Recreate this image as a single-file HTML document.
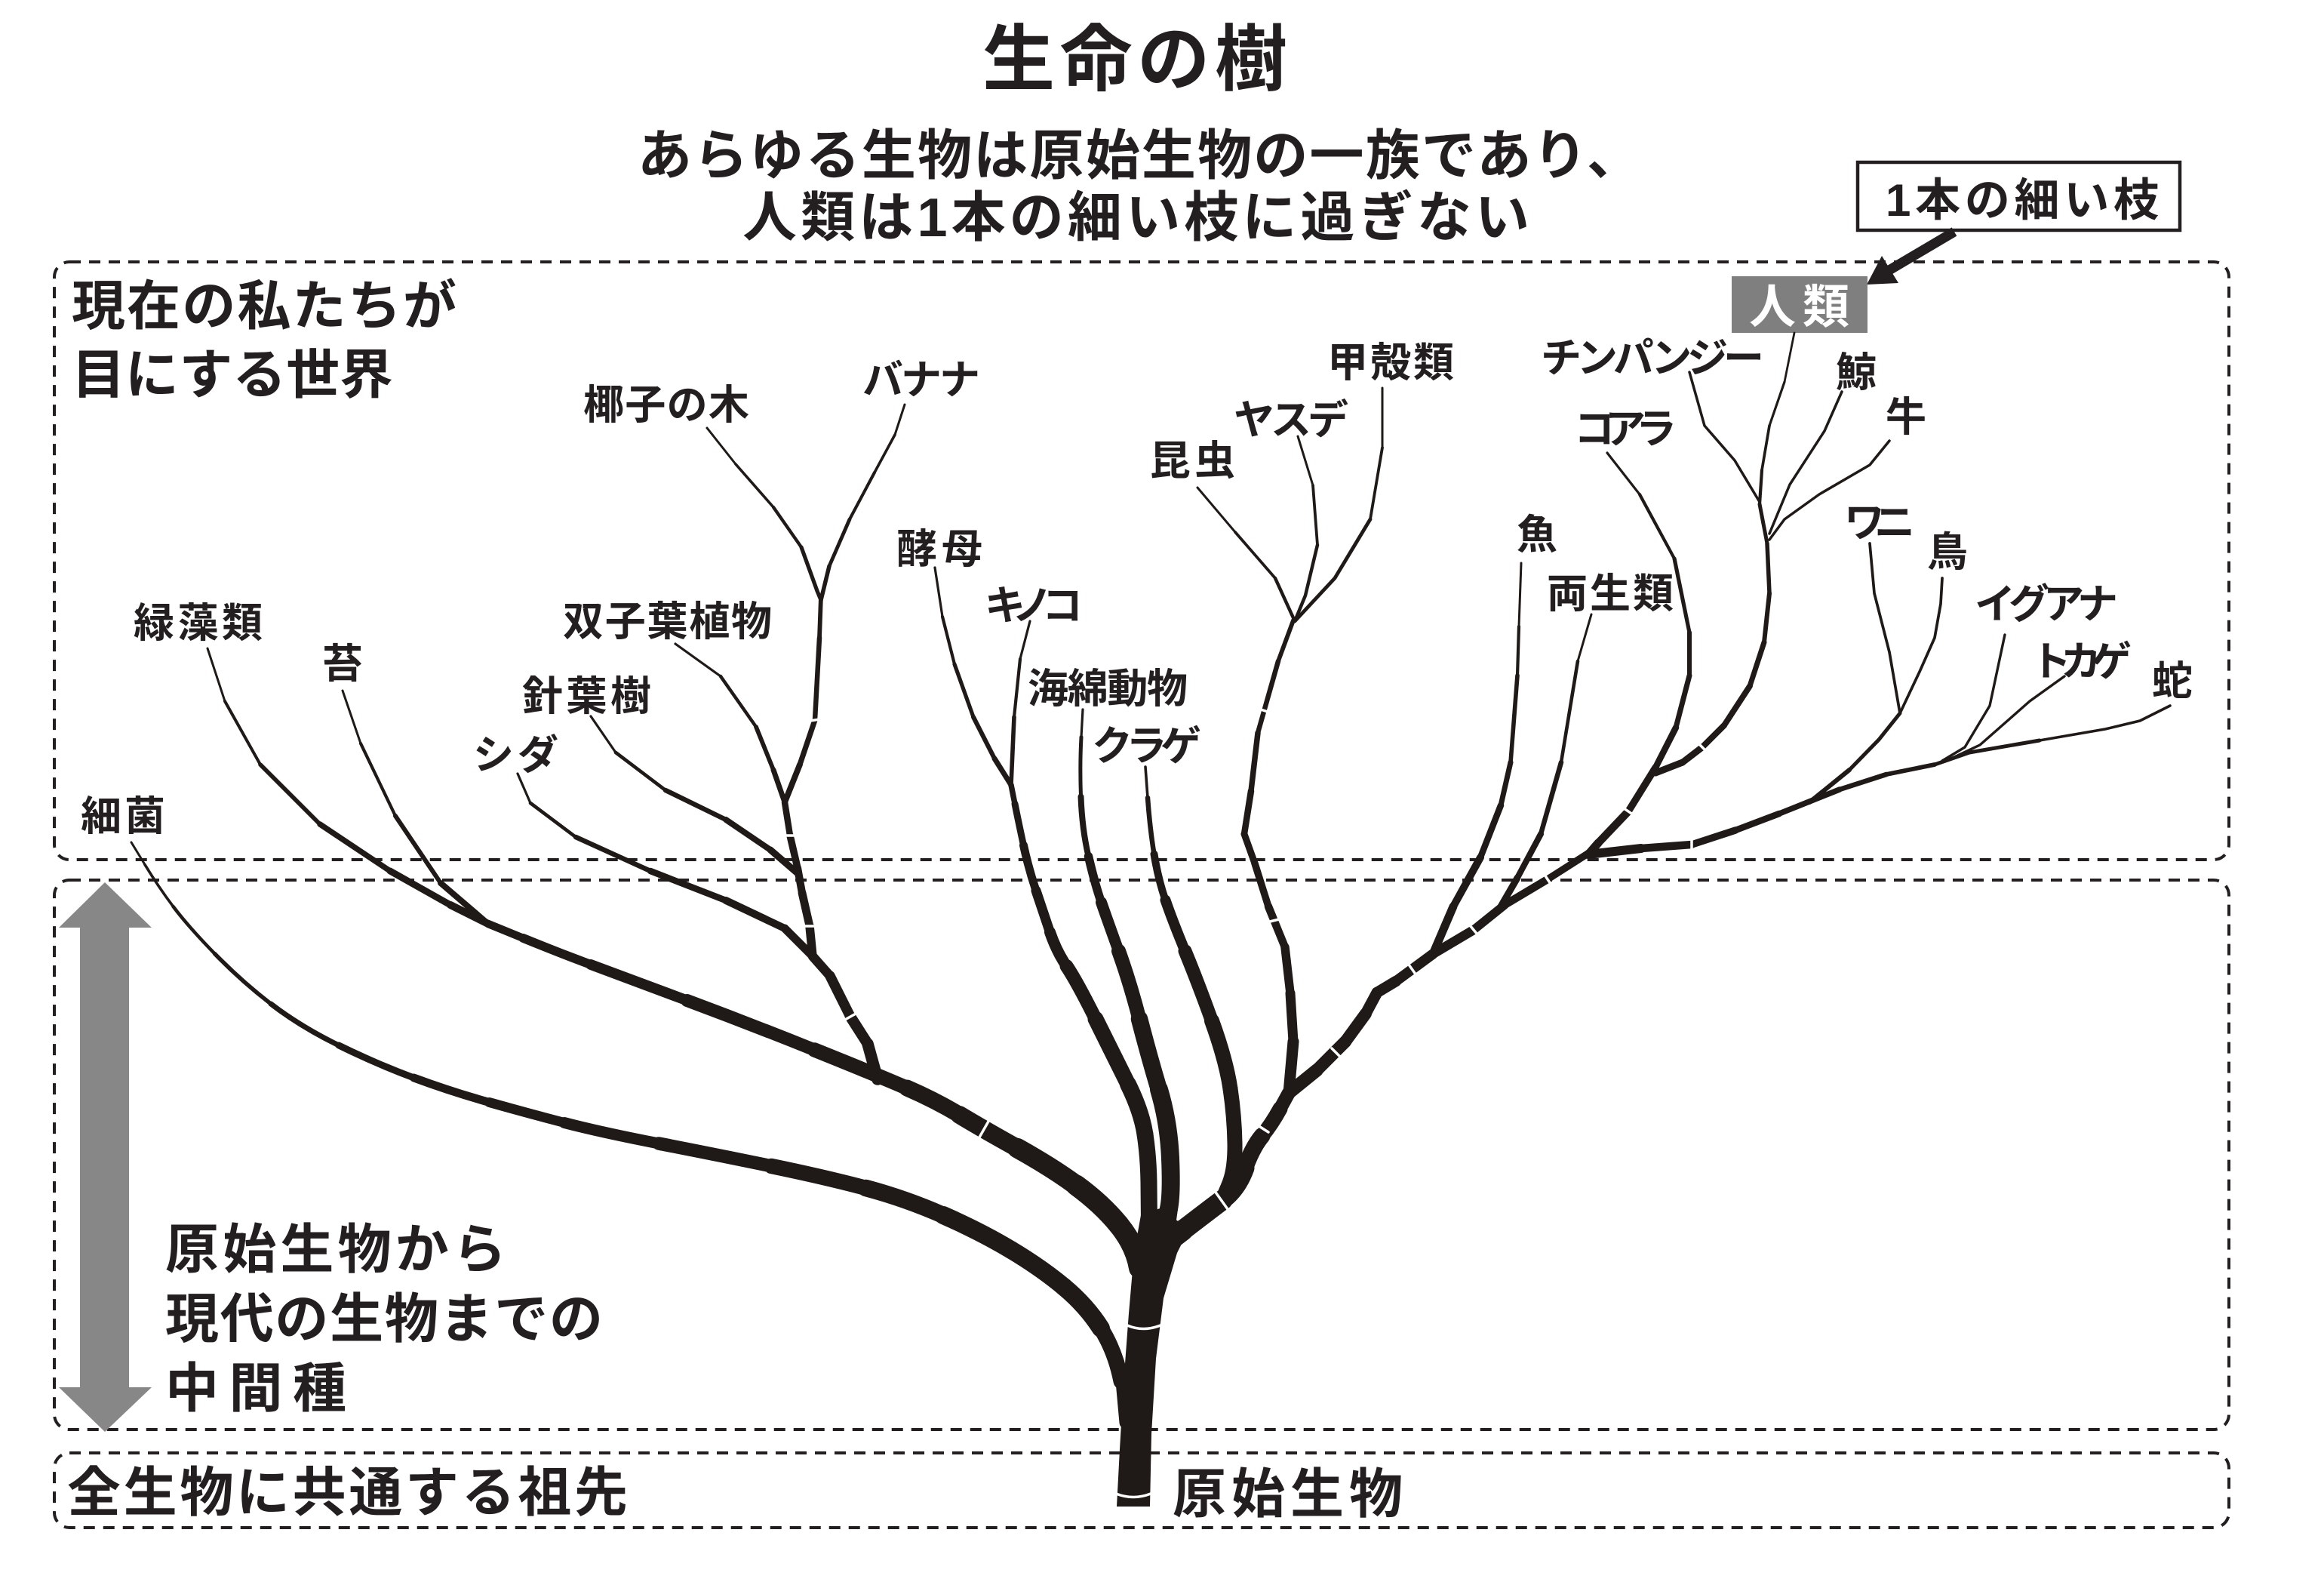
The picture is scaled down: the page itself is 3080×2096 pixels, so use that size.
<!DOCTYPE html>
<html lang="ja">
<head>
<meta charset="utf-8">
<style>
html,body{margin:0;padding:0;background:#fff;}
svg{display:block;}
.t{font-family:"Liberation Sans","Noto Sans CJK JP",sans-serif;fill:#231f20;font-weight:700;}
.lb{font-size:54px;}
.hd{font-size:71px;}
</style>
</head>
<body>
<svg width="3080" height="2096" viewBox="0 0 3080 2096" xmlns="http://www.w3.org/2000/svg">
<rect width="3080" height="2096" fill="#fff"/>

<!-- dashed boxes -->
<g fill="none" stroke="#231f20" stroke-width="4" stroke-dasharray="15 11">
  <rect x="72" y="347" width="2882" height="792" rx="20" ry="20"/>
  <rect x="72" y="1166" width="2882" height="728" rx="20" ry="20"/>
  <rect x="72" y="1925" width="2882" height="99" rx="20" ry="20"/>
</g>

<!-- gray double arrow -->
<polygon points="139,1169 201,1229 171,1229 171,1838 201,1838 139,1897 78,1838 106,1838 106,1229 78,1229" fill="#878787"/>

<!-- title & subtitle -->
<text class="t" x="1302" y="112" font-size="96" textLength="404" lengthAdjust="spacing">生命の樹</text>
<text class="t" x="845" y="231" font-size="72" textLength="1330" lengthAdjust="spacing">あらゆる生物は原始生物の一族であり、</text>
<text class="t" x="984" y="313" font-size="72" textLength="1043" lengthAdjust="spacing">人類は1本の細い枝に過ぎない</text>

<!-- callout box -->
<rect x="2462" y="215" width="427" height="90" fill="#fff" stroke="#231f20" stroke-width="4.5"/>
<text class="t" x="2499" y="286" font-size="60" textLength="362" lengthAdjust="spacing">1本の細い枝</text>
<line x1="2590" y1="307" x2="2502" y2="359" stroke="#231f20" stroke-width="13"/>
<polygon points="2474,377 2494,339 2516,375" fill="#231f20"/>

<!-- human box -->
<rect x="2295" y="366" width="180" height="75" fill="#7f7f7f"/>
<text class="t" x="2318" y="428" font-size="62" textLength="133" lengthAdjust="spacing" style="fill:#fff">人類</text>

<!-- section headings -->
<text class="t hd" x="95" y="430" textLength="510" lengthAdjust="spacing">現在の私たちが</text>
<text class="t hd" x="95" y="521" textLength="426" lengthAdjust="spacing">目にする世界</text>
<text class="t hd" x="219" y="1680" textLength="452" lengthAdjust="spacing">原始生物から</text>
<text class="t hd" x="219" y="1772" textLength="580" lengthAdjust="spacing">現代の生物までの</text>
<text class="t hd" x="219" y="1864" textLength="240" lengthAdjust="spacing">中間種</text>
<text class="t hd" x="89" y="2002" textLength="743" lengthAdjust="spacing">全生物に共通する祖先</text>
<text class="t hd" x="1554" y="2004" textLength="305" lengthAdjust="spacing">原始生物</text>

<!-- labels -->
<g class="t lb">
  <text x="773" y="555" textLength="220" lengthAdjust="spacing">椰子の木</text>
  <text x="1143" y="522" textLength="156" lengthAdjust="spacing">バナナ</text>
  <text x="1759" y="499" textLength="168" lengthAdjust="spacing">甲殻類</text>
  <text x="1635" y="575" textLength="152" lengthAdjust="spacing">ヤスデ</text>
  <text x="1524" y="629" textLength="113" lengthAdjust="spacing">昆虫</text>
  <text x="1188" y="746" textLength="114" lengthAdjust="spacing">酵母</text>
  <text x="1305" y="821" textLength="130" lengthAdjust="spacing">キノコ</text>
  <text x="1362" y="931" textLength="212" lengthAdjust="spacing">海綿動物</text>
  <text x="1447" y="1007" textLength="145" lengthAdjust="spacing">クラゲ</text>
  <text x="2010" y="727" textLength="58" lengthAdjust="spacing">魚</text>
  <text x="177" y="844" textLength="171" lengthAdjust="spacing">緑藻類</text>
  <text x="427" y="898" textLength="53" lengthAdjust="spacing">苔</text>
  <text x="746" y="842" textLength="277" lengthAdjust="spacing">双子葉植物</text>
  <text x="692" y="941" textLength="171" lengthAdjust="spacing">針葉樹</text>
  <text x="627" y="1019" textLength="113" lengthAdjust="spacing">シダ</text>
  <text x="107" y="1100" textLength="112" lengthAdjust="spacing">細菌</text>
  <text x="2042" y="493" textLength="296" lengthAdjust="spacing">チンパンジー</text>
  <text x="2433" y="512" textLength="58" lengthAdjust="spacing">鯨</text>
  <text x="2499" y="571" textLength="55" lengthAdjust="spacing">牛</text>
  <text x="2086" y="587" textLength="136" lengthAdjust="spacing">コアラ</text>
  <text x="2444" y="711" textLength="94" lengthAdjust="spacing">ワニ</text>
  <text x="2554" y="750" textLength="55" lengthAdjust="spacing">鳥</text>
  <text x="2050" y="805" textLength="168" lengthAdjust="spacing">両生類</text>
  <text x="2617" y="819" textLength="190" lengthAdjust="spacing">イグアナ</text>
  <text x="2691" y="895" textLength="134" lengthAdjust="spacing">トカゲ</text>
  <text x="2852" y="921" textLength="60" lengthAdjust="spacing">蛇</text>
</g>

<!-- TREE -->
<g fill="none" stroke="#1f1a17" stroke-linecap="round" stroke-linejoin="round">
  <!-- bacteria -->
  <path d="M174 1116 L192 1145.5" stroke-width="3"/>
  <path d="M192 1145.5 Q210 1175 229.5 1201" stroke-width="3.6"/>
  <path d="M229.5 1201 Q249 1227 284.5 1263.5" stroke-width="4.5"/>
  <path d="M284.5 1263.5 Q320 1300 359 1330" stroke-width="5.5"/>
  <path d="M359 1330 Q398 1360 449 1385" stroke-width="7"/>
  <path d="M449 1385 Q500 1410 548.5 1428" stroke-width="9"/>
  <path d="M548.5 1428 Q597 1446 648.5 1460.5" stroke-width="11"/>
  <path d="M648.5 1460.5 Q700 1475 748 1487.5" stroke-width="13"/>
  <path d="M748 1487.5 Q796 1500 873 1515" stroke-width="15"/>
  <path d="M873 1515 Q950 1530 1022.5 1545" stroke-width="17.5"/>
  <path d="M1022.5 1545 Q1095 1560 1147.5 1574" stroke-width="20.5"/>
  <path d="M1147.5 1574 Q1200 1588 1250 1610" stroke-width="22.5"/>
  <path d="M1250 1610 Q1300 1632 1340 1656" stroke-width="24"/>
  <path d="M1340 1656 Q1380 1680 1410 1705" stroke-width="24"/>
  <path d="M1410 1705 Q1440 1730 1459 1760" stroke-width="24"/>
  <path d="M1459 1760 Q1478 1790 1486 1830" stroke-width="21"/>
  <path d="M1486 1830 L1491 1885" stroke-width="15"/>

  <!-- plant main -->
  <path d="M647 1224 L693.5 1243" stroke-width="10.5"/>
  <path d="M693.5 1243 Q740 1262 783 1278" stroke-width="12"/>
  <path d="M783 1278 Q826 1294 910.5 1325.5" stroke-width="14"/>
  <path d="M910.5 1325.5 Q995 1357 1079.5 1391" stroke-width="17"/>
  <path d="M1079.5 1391 Q1164 1425 1202 1441.5" stroke-width="19.5"/>
  <path d="M1202 1441.5 Q1240 1458 1271.5 1477" stroke-width="22"/>
  <path d="M1271.5 1477 Q1303 1496 1348 1521" stroke-width="24"/>
  <path d="M1348 1521 Q1393 1546 1426.5 1570.5" stroke-width="26.5"/>
  <path d="M1426.5 1570.5 Q1460 1595 1482.5 1622.5" stroke-width="28"/>
  <path d="M1482.5 1622.5 Q1505 1650 1510 1680" stroke-width="28"/>

  <!-- green algae & moss -->
  <path d="M275 859 L298 929" stroke-width="3"/>
  <path d="M298 929 L345 1013" stroke-width="4"/>
  <path d="M345 1013 L424 1092" stroke-width="5.6"/>
  <path d="M424 1092 L517 1154" stroke-width="7.5"/>
  <path d="M517 1154 L597 1199" stroke-width="9"/>
  <path d="M597 1199 L647 1224" stroke-width="10"/>
  <path d="M454 915 L478 985" stroke-width="3"/>
  <path d="M478 985 L524 1081" stroke-width="4.2"/>
  <path d="M524 1081 L584 1170" stroke-width="6"/>
  <path d="M584 1170 L647 1224" stroke-width="8"/>

  <!-- plant stem -->
  <path d="M1163 1430 L1150 1383" stroke-width="15.5"/>
  <path d="M1150 1383 L1127 1347" stroke-width="14.5"/>
  <path d="M1127 1347 L1100 1293" stroke-width="13.5"/>
  <path d="M1100 1293 L1077 1267" stroke-width="12.5"/>
  <path d="M1077 1267 L1073 1227" stroke-width="11.5"/>
  <path d="M1073 1227 L1063 1183" stroke-width="10.8"/>
  <path d="M1063 1183 L1057 1150" stroke-width="10.2"/>
  <path d="M1057 1150 L1047 1107" stroke-width="9.5"/>
  <path d="M1047 1107 L1040 1063" stroke-width="8.5"/>
  <path d="M1040 1063 L1060 1013" stroke-width="7.8"/>
  <path d="M1060 1013 L1080 954" stroke-width="7.2"/>
  <path d="M1080 954 L1086 845" stroke-width="6.5"/>
  <path d="M1086 845 L1088 790" stroke-width="5.8"/>
  <!-- coconut / banana -->
  <path d="M937 567 L975 615" stroke-width="3"/>
  <path d="M975 615 L1025 672" stroke-width="3.6"/>
  <path d="M1025 672 L1062 725" stroke-width="4.3"/>
  <path d="M1062 725 L1083 783 L1088 795" stroke-width="5.2"/>
  <path d="M1199 536 L1186 576" stroke-width="3"/>
  <path d="M1186 576 L1159 626" stroke-width="3.6"/>
  <path d="M1159 626 L1126 688" stroke-width="4.1"/>
  <path d="M1126 688 L1099 750" stroke-width="4.8"/>
  <path d="M1099 750 L1088 795" stroke-width="5.5"/>
  <!-- dicot, conifer, fern -->
  <path d="M895 853 L955 896" stroke-width="3.2"/>
  <path d="M955 896 L1002 963" stroke-width="4.5"/>
  <path d="M1002 963 L1025 1020" stroke-width="5.8"/>
  <path d="M1025 1020 L1040 1063" stroke-width="7"/>
  <path d="M783 949 L816 997" stroke-width="3.2"/>
  <path d="M816 997 L882 1047" stroke-width="4.6"/>
  <path d="M882 1047 L962 1086" stroke-width="6.5"/>
  <path d="M962 1086 L1021 1126" stroke-width="8"/>
  <path d="M1021 1126 L1057 1157" stroke-width="9"/>
  <path d="M686 1025 L703 1064" stroke-width="3.2"/>
  <path d="M703 1064 L763 1109" stroke-width="4.6"/>
  <path d="M763 1109 L862 1154" stroke-width="6.5"/>
  <path d="M862 1154 L962 1193" stroke-width="8.5"/>
  <path d="M962 1193 L1040 1230" stroke-width="10"/>
  <path d="M1040 1230 L1077 1267" stroke-width="11"/>

  <!-- yeast / mushroom -->
  <path d="M1239 752 L1249 817" stroke-width="3.2"/>
  <path d="M1249 817 L1265 880" stroke-width="4.2"/>
  <path d="M1265 880 L1290 950" stroke-width="5.2"/>
  <path d="M1290 950 L1318 1005" stroke-width="6"/>
  <path d="M1318 1005 L1340 1040" stroke-width="7"/>
  <path d="M1365 823 L1352 873" stroke-width="3.2"/>
  <path d="M1352 873 L1344 950" stroke-width="4.2"/>
  <path d="M1344 950 L1340 1040" stroke-width="5.6"/>
  <path d="M1340 1040 L1345 1065" stroke-width="7.5"/>
  <path d="M1345 1065 Q1350 1090 1356.5 1120" stroke-width="9"/>
  <path d="M1356.5 1120 Q1363 1150 1373 1180" stroke-width="11"/>
  <path d="M1373 1180 Q1383 1210 1391.5 1235" stroke-width="13"/>
  <path d="M1391.5 1235 Q1400 1260 1413.5 1280" stroke-width="15"/>
  <path d="M1413.5 1280 Q1427 1300 1452 1350" stroke-width="18"/>
  <path d="M1452 1350 Q1477 1400 1495 1436.5" stroke-width="21"/>
  <path d="M1495 1436.5 Q1513 1473 1517.5 1503" stroke-width="22"/>
  <path d="M1517.5 1503 Q1522 1533 1522.5 1566.5" stroke-width="22"/>
  <path d="M1522.5 1566.5 L1523 1620" stroke-width="22"/>

  <!-- sponge -->
  <path d="M1435 940 L1433 976.5" stroke-width="3.2"/>
  <path d="M1433 976.5 Q1431 1013 1432.5 1055.5" stroke-width="5"/>
  <path d="M1432.5 1055.5 Q1434 1098 1442.5 1134.5" stroke-width="8"/>
  <path d="M1442.5 1134.5 Q1451 1171 1459.5 1195.5" stroke-width="11.5"/>
  <path d="M1459.5 1195.5 Q1468 1220 1482.5 1260" stroke-width="15"/>
  <path d="M1482.5 1260 Q1497 1300 1510 1350" stroke-width="19"/>
  <path d="M1510 1350 Q1523 1400 1536 1443.5" stroke-width="22.5"/>
  <path d="M1536 1443.5 Q1549 1487 1551 1535" stroke-width="24"/>
  <path d="M1551 1535 Q1553 1583 1549 1601.5" stroke-width="24"/>
  <path d="M1549 1601.5 L1545 1630" stroke-width="24"/>

  <!-- jellyfish -->
  <path d="M1518 1016 L1521 1057" stroke-width="3.6"/>
  <path d="M1521 1057 Q1524 1098 1529.5 1131.5" stroke-width="6.5"/>
  <path d="M1529.5 1131.5 Q1535 1165 1544.5 1192.5" stroke-width="10"/>
  <path d="M1544.5 1192.5 Q1554 1220 1570.5 1260" stroke-width="14"/>
  <path d="M1570.5 1260 Q1587 1300 1606 1352.5" stroke-width="18"/>
  <path d="M1606 1352.5 Q1625 1405 1630.5 1442.5" stroke-width="20"/>
  <path d="M1630.5 1442.5 Q1636 1480 1636.5 1515" stroke-width="20"/>
  <path d="M1636.5 1515 Q1637 1550 1628.5 1570" stroke-width="20"/>
  <path d="M1628.5 1570 L1620 1590" stroke-width="20"/>

  <!-- right main -->
  <path d="M1535 1655 L1567.5 1630" stroke-width="28"/>
  <path d="M1567.5 1630 Q1600 1605 1620 1590" stroke-width="27"/>
  <path d="M1620 1590 Q1640 1575 1650 1547.5" stroke-width="25"/>
  <path d="M1650 1547.5 Q1660 1520 1672.5 1505" stroke-width="22"/>
  <path d="M1672.5 1505 Q1685 1490 1696.5 1469" stroke-width="20"/>
  <path d="M1696.5 1469 L1708 1448" stroke-width="18"/>

  <!-- arthropods -->
  <path d="M1708 1448 L1714 1380" stroke-width="15"/>
  <path d="M1714 1380 L1710 1316" stroke-width="13"/>
  <path d="M1710 1316 L1703 1255" stroke-width="11.5"/>
  <path d="M1703 1255 L1681 1201" stroke-width="10.5"/>
  <path d="M1681 1201 L1663 1144" stroke-width="9.5"/>
  <path d="M1663 1144 L1649 1105" stroke-width="9"/>
  <path d="M1649 1105 L1658 1048" stroke-width="8.5"/>
  <path d="M1658 1048 L1667 971" stroke-width="7.5"/>
  <path d="M1667 971 L1694 876" stroke-width="6.5"/>
  <path d="M1694 876 L1714 822" stroke-width="5.8"/>
  <path d="M1587 646 L1637 705" stroke-width="3"/>
  <path d="M1637 705 L1690 766" stroke-width="3.8"/>
  <path d="M1690 766 L1716 823" stroke-width="4.5"/>
  <path d="M1720 578 L1740 643" stroke-width="3"/>
  <path d="M1740 643 L1746 722" stroke-width="3.8"/>
  <path d="M1746 722 L1730 789 L1716 823" stroke-width="4.5"/>
  <path d="M1832 514 L1832 593" stroke-width="3"/>
  <path d="M1832 593 L1816 688" stroke-width="3.8"/>
  <path d="M1816 688 L1769 766 L1716 823" stroke-width="4.8"/>

  <!-- vertebrates -->
  <path d="M1708 1448 L1745 1418" stroke-width="17.5"/>
  <path d="M1745 1418 L1783 1380" stroke-width="16.5"/>
  <path d="M1783 1380 L1810 1343" stroke-width="16"/>
  <path d="M1810 1343 L1825 1315" stroke-width="15"/>
  <path d="M1825 1315 L1850 1300" stroke-width="14.5"/>
  <path d="M1850 1300 L1899 1264" stroke-width="13.5"/>
  <path d="M1899 1264 L1953 1232" stroke-width="12.5"/>
  <path d="M1953 1232 L1994 1199" stroke-width="11.5"/>
  <path d="M1994 1199 L2051 1165" stroke-width="10.5"/>
  <path d="M2051 1165 L2109 1128" stroke-width="9.5"/>
  <!-- fish -->
  <path d="M2016 746 L2013 830" stroke-width="3"/>
  <path d="M2013 830 L2011 895" stroke-width="4.2"/>
  <path d="M2011 895 L2002 1010" stroke-width="5.6"/>
  <path d="M2002 1010 L1989 1067" stroke-width="7"/>
  <path d="M1989 1067 L1962 1136" stroke-width="8.5"/>
  <path d="M1962 1136 L1926 1201" stroke-width="10"/>
  <path d="M1926 1201 L1899 1264" stroke-width="11"/>
  <!-- amphibians -->
  <path d="M2109 814 L2091 876" stroke-width="3"/>
  <path d="M2091 876 L2069 1010" stroke-width="4.6"/>
  <path d="M2069 1010 L2042 1105" stroke-width="6.5"/>
  <path d="M2042 1105 L2011 1163" stroke-width="8"/>
  <path d="M2011 1163 L1989 1201" stroke-width="9"/>
  <!-- mammals -->
  <path d="M2130 600 L2173 655" stroke-width="3.2"/>
  <path d="M2173 655 L2219 740" stroke-width="4.2"/>
  <path d="M2219 740 L2239 838" stroke-width="5.2"/>
  <path d="M2239 838 L2239 895" stroke-width="6"/>
  <path d="M2239 895 L2221 964" stroke-width="7"/>
  <path d="M2221 964 L2194 1017" stroke-width="8.5"/>
  <path d="M2194 1017 L2158 1075" stroke-width="9.5"/>
  <path d="M2158 1075 L2118 1117" stroke-width="10.5"/>
  <path d="M2118 1117 L2105 1132" stroke-width="11"/>
  <!-- human stem -->
  <path d="M2378 441 L2365 506" stroke-width="2.8"/>
  <path d="M2365 506 L2345 564" stroke-width="3.2"/>
  <path d="M2345 564 L2335 623" stroke-width="3.7"/>
  <path d="M2335 623 L2332 668" stroke-width="4.2"/>
  <path d="M2332 668 L2342 720" stroke-width="5"/>
  <path d="M2342 720 L2345 786" stroke-width="5.5"/>
  <path d="M2345 786 L2338 851" stroke-width="6"/>
  <path d="M2338 851 L2319 909" stroke-width="7"/>
  <path d="M2319 909 L2285 961" stroke-width="7.8"/>
  <path d="M2285 961 L2256 990" stroke-width="8.2"/>
  <path d="M2256 990 L2230 1010" stroke-width="8.7"/>
  <path d="M2230 1010 L2194 1024" stroke-width="9"/>
  <path d="M2239 493 L2259 564 L2299 610 L2332 665" stroke-width="3.5"/>
  <path d="M2441 519 L2418 571 L2372 642 L2345 707" stroke-width="3.5"/>
  <path d="M2504 584 L2478 616 L2411 655 L2365 688 L2345 715" stroke-width="3.5"/>
  <!-- reptiles -->
  <path d="M2105 1132 L2175 1124" stroke-width="12"/>
  <path d="M2175 1124 L2242 1119" stroke-width="10.5"/>
  <path d="M2242 1119 L2300 1100" stroke-width="9.5"/>
  <path d="M2300 1100 L2358 1078" stroke-width="8.5"/>
  <path d="M2358 1078 L2438 1046" stroke-width="7.5"/>
  <path d="M2438 1046 L2500 1026" stroke-width="6.5"/>
  <path d="M2500 1026 L2564 1013" stroke-width="5.8"/>
  <path d="M2398 1063 L2451 1020" stroke-width="6"/>
  <path d="M2451 1020 L2490 980 L2518 945" stroke-width="5"/>
  <path d="M2478 720 L2484 786 L2504 864 L2518 945" stroke-width="3.7"/>
  <path d="M2574 766 L2572 800 L2564 845 L2544 890 L2518 945" stroke-width="3.7"/>
  <path d="M2564 1013 L2610 997 L2703 981" stroke-width="5"/>
  <path d="M2703 981 L2790 966 L2836 955 L2876 935" stroke-width="3.6"/>
  <path d="M2574 1008 L2604 990 L2637 935 L2657 841" stroke-width="3.4"/>
  <path d="M2590 1003 L2624 987 L2690 929 L2736 896" stroke-width="3.4"/>
</g>

<!-- trunk -->
<polygon points="1480,1996 1524,1996 1526,1900 1532,1800 1542,1720 1560,1660 1575,1630 1540,1600 1512,1610 1503,1660 1496,1740 1490,1820 1484,1920" fill="#1f1a17"/>

<!-- white notches -->
<g fill="none" stroke="#fff" stroke-width="3.5" stroke-linecap="round">
  <path d="M1479 1979 Q1502 1988 1525 1979"/>
  <path d="M1494 1756 Q1515 1765 1538 1756"/>
  <path d="M1311 1484 L1295 1512"/>
  <path d="M1136 1342 L1118 1352"/>
  <path d="M1064 1227 L1082 1227"/>
  <path d="M1039 1107 L1055 1107"/>
  <path d="M1073 955 L1087 953"/>
  <path d="M1627 1602 L1607 1574"/>
  <path d="M1681 1500 L1659 1486"/>
  <path d="M1781 1405 L1765 1389"/>
  <path d="M1877 1292 L1867 1278"/>
  <path d="M1958 1238 L1948 1226"/>
  <path d="M2055 1171 L2047 1159"/>
  <path d="M1695 1218 L1679 1222"/>
  <path d="M1680 943 L1668 939"/>
  <path d="M2164 1079 L2152 1071"/>
  <path d="M2260 994 L2252 986"/>
  <path d="M2242 1126 L2242 1112"/>
</g>
</svg>
</body>
</html>
